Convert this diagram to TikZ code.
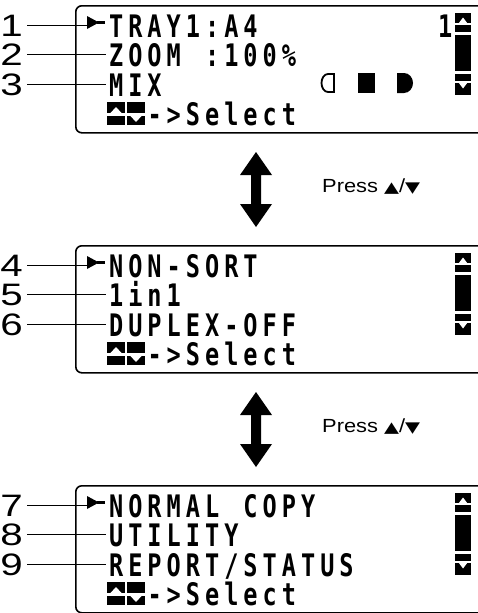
\documentclass[tikz,border=0pt]{standalone}
\usepackage{fontspec}
\newfontfamily\lcdfont[FakeStretch=0.76]{DejaVu Sans Mono}
\newfontfamily\numfont[FakeStretch=1.3]{Liberation Sans}
\newfontfamily\pressfont[FakeStretch=1.15]{Liberation Sans}
\newfontfamily\symfont[FakeStretch=1.3]{DejaVu Sans}
% one LCD character per fixed cell, ~ is a blank cell
\newlength\lcdpitch
\setlength\lcdpitch{19.2pt}
\def\lcdloop#1{\ifx#1\relax\else\makebox[\lcdpitch]{#1}\expandafter\lcdloop\fi}
\newcommand\lcd[1]{\lcdloop#1\relax}
\newcommand\updown{{\symfont\fontsize{15}{15}\selectfont ▲}/{\symfont\fontsize{15}{15}\selectfont ▼}}
\tikzstyle{panel} = [draw, line width=1.6pt, rounded corners=6pt, anchor=north west,
inner sep=0pt, minimum width=460pt, minimum height=127pt]
\tikzstyle{lcdtext} = [font=\lcdfont\bfseries\fontsize{31}{31}\selectfont, anchor=west,
inner sep=0pt, text height=22.5pt, text depth=0pt]
\tikzstyle{callout} = [font=\numfont\fontsize{31}{31}\selectfont, anchor=east,
inner sep=0pt, text height=22pt, text depth=0pt]
\tikzstyle{press} = [font=\pressfont\fontsize{19}{19}\selectfont, anchor=west, inner sep=0pt]
\tikzstyle{leader} = [line width=0.9pt, shorten <=4pt]

\begin{document}
\begin{tikzpicture}[x=1pt, y=-1pt]
\useasboundingbox (0,0) rectangle (478,613);
\clip (0,0) rectangle (478,613);

% the three displays
\foreach \py/\k in {5/1, 245/2, 485/3} {
  \begin{scope}[shift={(0,\py)}]
    \node [panel] (lcd\k) at (75,0) {};
    % scroll bar
    \fill (455,8) rectangle (471,18);
    \fill [white] (458.5,18.5) -- (463,12.5) -- (467.5,18.5) -- cycle;
    \fill (455,20) rectangle (471,27);
    \fill (455,30) rectangle (471,66);
    \fill (455,69) rectangle (471,76);
    \fill (455,78) rectangle (471,90);
    \fill [white] (458.5,77.5) -- (463,83.5) -- (467.5,77.5) -- cycle;
    % up/down keys
    \fill (107,97) rectangle (125,108);
    \fill [white] (110,108.5) -- (116,102) -- (122,108.5) -- cycle;
    \fill (107,111) rectangle (125,120);
    \fill (127,97) rectangle (145,108);
    \fill (127,111) rectangle (145,120);
    \fill [white] (130,110.5) -- (136,117) -- (142,110.5) -- cycle;
    \node [lcdtext] (sel\k) at (144.8,109) {\lcd{->Select}};
    % cursor
    \coordinate (ptr\k) at (87,21);
    \fill (87,11) -- (99,17.5) -- (87,24) -- cycle;
    \draw [line width=2.5pt] (97,17.5) -- (105,17.5);
  \end{scope}
}

% arrows between displays
\foreach \ay/\k in {152/1, 392/2} {
  \begin{scope}[shift={(256,\ay)}]
    \fill (0,0) -- (16,23) -- (5,23) -- (5,52) -- (16,52) -- (0,75)
      -- (-16,52) -- (-5,52) -- (-5,23) -- (-16,23) -- cycle;
  \end{scope}
  \node [press] (press\k) at (322,\ay+35) {Press \updown};
}

% first display
\node [lcdtext] (item1) at (106.4,26) {\lcd{TRAY1:A4}};
\node [lcdtext] (item2) at (106.4,55) {\lcd{ZOOM~:100\%}};
\node [lcdtext] (item3) at (106.4,85) {\lcd{MIX}};
\node [lcdtext] (page) at (435.4,26) {\lcd{1}};
\draw [line width=1.8pt] (334,92) -- (328,92)
  arc [start angle=90, end angle=270, x radius=6.5, y radius=9] -- (334,74) -- cycle;
\fill (358,73) rectangle (375,93);
\fill (397,73) -- (404,73)
  arc [start angle=-90, end angle=90, x radius=9, y radius=10] -- (397,93) -- cycle;

% second display
\node [lcdtext] (item4) at (106.4,266) {\lcd{NON-SORT}};
\node [lcdtext] (item5) at (106.4,295) {\lcd{1in1}};
\node [lcdtext] (item6) at (106.4,325) {\lcd{DUPLEX-OFF}};

% third display
\node [lcdtext] (item7) at (106.4,506) {\lcd{NORMAL~COPY}};
\node [lcdtext] (item8) at (106.4,535) {\lcd{UTILITY}};
\node [lcdtext] (item9) at (106.4,565) {\lcd{REPORT/STATUS}};

% callout numbers
\foreach \n/\y in {1/25, 2/54, 3/84, 4/265, 5/294, 6/324, 7/505, 8/534, 9/564}
  \node [callout] (num\n) at (23,\y) {\n};

\draw [leader] (num1.east) -- (num1.east -| ptr1);
\draw [leader] (num4.east) -- (num4.east -| ptr2);
\draw [leader] (num7.east) -- (num7.east -| ptr3);
\foreach \n in {2,3,5,6,8,9}
  \draw [leader] (num\n.east) -- (num\n.east -| item\n.west);
\end{tikzpicture}
\end{document}
